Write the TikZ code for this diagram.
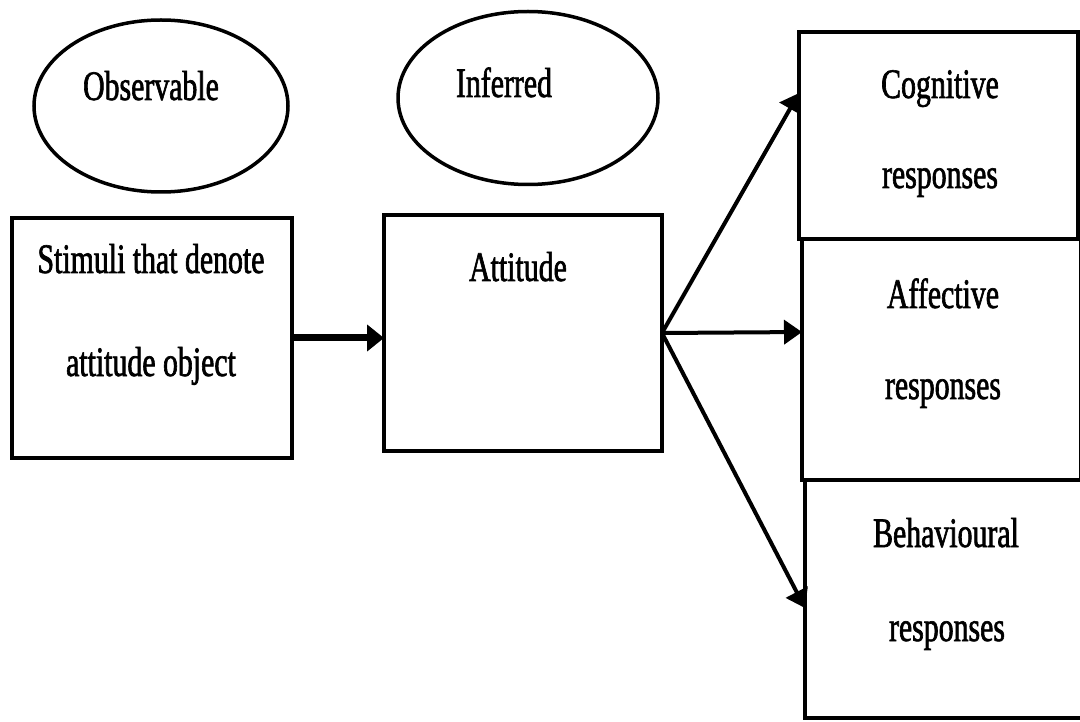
\documentclass[tikz,border=0pt]{standalone}
\usepackage{fontspec}
\setmainfont[FakeStretch=0.71,FakeBold=1.5]{Liberation Serif}
\usetikzlibrary{shapes.geometric,arrows.meta,calc}
\begin{document}
\begin{tikzpicture}[x=1pt,y=-1pt,
  boxframe/.style={draw, line width=4.5pt, rectangle, inner sep=0pt, outer sep=0pt, anchor=north west},
  oval/.style={draw, line width=3.5pt, ellipse, inner sep=0pt, outer sep=0pt},
  lbl/.style={anchor=base, inner sep=0pt, outer sep=0pt, font=\fontsize{42}{48}\selectfont},
  link/.style={line width=4pt, -{Triangle[length=18pt,width=24pt]}},
  boldlink/.style={line width=7pt, -{Triangle[length=17pt,width=26pt]}}
]
\useasboundingbox (0,0) rectangle (1080,722);

% upper ovals
\node[oval, minimum width=254pt, minimum height=172pt] (obsoval) at (161,106) {};
\node[oval, minimum width=260pt, minimum height=173pt] (infoval) at (528,98) {};
\node[lbl] (obstext) at (151,100) {Observable};
\node[lbl] (inftext) at (504,97) {Inferred};

% left and middle boxes
\node[boxframe, minimum width=280pt, minimum height=240pt] (stim) at (12,218) {};
\node[boxframe, minimum width=278pt, minimum height=236pt] (att) at (384,215) {};
\node[lbl] (stimA) at (151,273) {Stimuli that denote};
\node[lbl] (stimB) at (151,376) {attitude object};
\node[lbl] (atttext) at (518,281) {Attitude};

% response column, running off the right edge
\node[boxframe, minimum width=279pt, minimum height=207pt] (cog) at (799,32) {};
\node[boxframe, minimum width=279pt, minimum height=241pt] (aff) at (802,239) {};
\node[boxframe, minimum width=280pt, minimum height=238pt] (beh) at (805,480) {};
\node[lbl] (cogA) at (940,98) {Cognitive};
\node[lbl] (cogB) at (940,188) {responses};
\node[lbl] (affA) at (943,308) {Affective};
\node[lbl] (affB) at (943,399) {responses};
\node[lbl] (behA) at (946,547) {Behavioural};
\node[lbl] (behB) at (947,641) {responses};

% connectors
\coordinate (fork) at (att.east);
\draw[boldlink] (stim.east) -- (att.west |- stim.east);
\draw[link] (fork) -- ($(cog.north west)!0.295!(cog.south west)$);
\draw[link] (fork) -- ($(aff.north west)!0.386!(aff.south west)$);
\draw[link] (fork) -- ($(beh.north west)!0.538!(beh.south west)$);
\end{tikzpicture}
\end{document}
